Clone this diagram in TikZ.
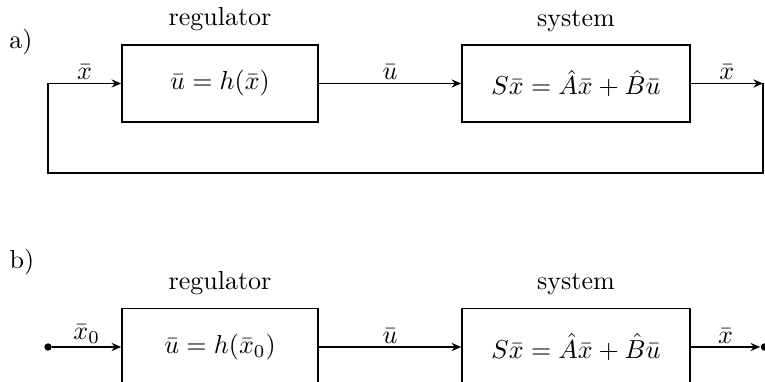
\documentclass[tikz,border=0pt]{standalone}
\usepackage{amsmath}
\usetikzlibrary{arrows.meta,positioning}
\tikzset{
  block/.style={draw,semithick,minimum height=1.04cm,inner sep=0pt},
  flow/.style={-{Stealth[length=1.3mm,width=1.1mm]},semithick},
  lbl/.style={above,inner sep=1.2pt},
  dot/.style={circle,fill,inner sep=0pt,minimum size=1mm},
}
\begin{document}
\begin{tikzpicture}
\useasboundingbox (0,0) rectangle (10.338,-5.149);
\clip (0,0) rectangle (10.338,-5.149);
% a) closed loop
\node (taga) at (0.284,-0.568) {a)};
\node[block,minimum width=2.649cm] (rega) at (2.973,-1.128) {$\bar u = h(\bar x)$};
\node[block,minimum width=3.081cm] (sysa) at (7.784,-1.128) {$S\bar x = \hat A\bar x + \hat B\bar u$};
\node[above=0.5mm of rega] (rega_t) {regulator};
\node[above=0.5mm of sysa] (sysa_t) {system};
\coordinate (ina) at (0.649,-1.128);
\coordinate (outa) at (10.311,-1.128);
\coordinate (fbr) at (10.311,-2.338);
\coordinate (fbl) at (0.649,-2.338);
\draw[flow] (ina) -- node[lbl] {$\bar x$} (rega);
\draw[flow] (rega) -- node[lbl] {$\bar u$} (sysa);
\draw[flow] (sysa) -- node[lbl] {$\bar x$} (outa);
\draw[semithick] (outa) -- (fbr) -- (fbl) -- (ina);
% b) open loop
\node (tagb) at (0.297,-3.541) {b)};
\node[block,minimum width=2.649cm] (regb) at (2.973,-4.689) {$\bar u = h(\bar x_0)$};
\node[block,minimum width=3.081cm] (sysb) at (7.784,-4.689) {$S\bar x = \hat A\bar x + \hat B\bar u$};
\node[above=0.5mm of regb] (regb_t) {regulator};
\node[above=0.5mm of sysb] (sysb_t) {system};
\node[dot] (inb) at (0.649,-4.689) {};
\node[dot] (outb) at (10.33,-4.689) {};
\draw[flow] (inb) -- node[lbl] {$\bar x_0$} (regb);
\draw[flow] (regb) -- node[lbl] {$\bar u$} (sysb);
\draw[flow] (sysb) -- node[lbl] {$\bar x$} (outb);
\end{tikzpicture}
\end{document}
